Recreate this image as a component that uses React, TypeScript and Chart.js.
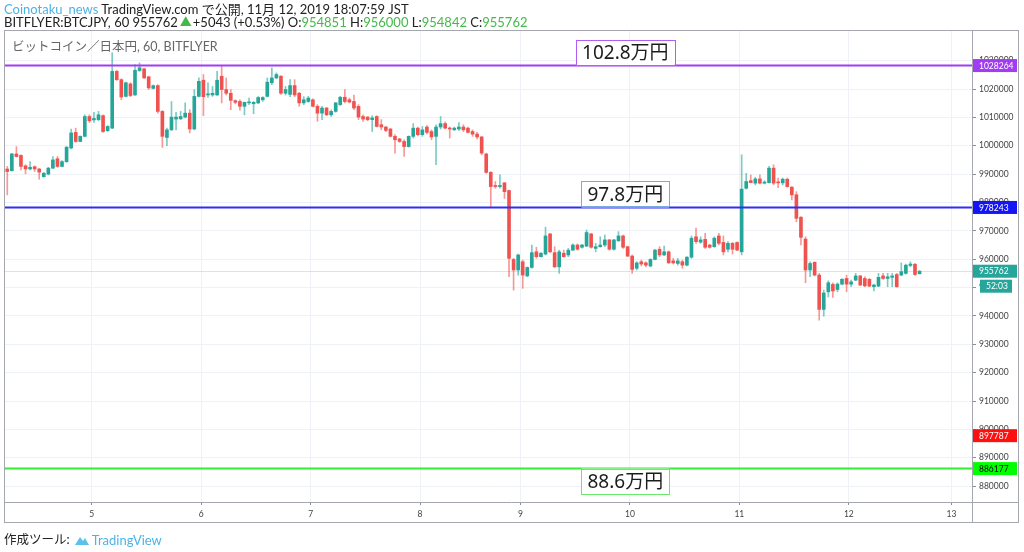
import React, { useEffect, useRef } from 'react';
import { Chart, registerables } from 'chart.js';

Chart.register(...registerables);

// ---------- data (BITFLYER:BTCJPY, 60 min candles) ----------
const opens = [
  991800, 991200, 997100, 996600, 992900, 991800, 992600, 991800, 989100, 990000,
  992100, 995400, 992700, 994400, 999200, 1004700, 1001500, 1003300, 1010300, 1009100,
  1009200, 1010600, 1005300, 1006200, 1026200, 1023300, 1017400, 1021800, 1017900, 1026500,
  1027100, 1024300, 1020200, 1021200, 1012100, 1002900, 1005600, 1009400, 1009500, 1010100,
  1011500, 1005900, 1017400, 1023100, 1017900, 1017900, 1017900, 1024500, 1019800, 1018500,
  1015900, 1015600, 1013900, 1015100, 1014800, 1015100, 1016200, 1017400, 1022200, 1023900,
  1024500, 1018500, 1018100, 1021200, 1018500, 1015100, 1015600, 1016200, 1013900, 1011500,
  1013300, 1010900, 1012100, 1014500, 1017100, 1016200, 1015600, 1013900, 1010300, 1010100,
  1009200, 1010300, 1007400, 1006600, 1005900, 1003300, 1002400, 1001500, 999700, 1003300,
  1006200, 1003900, 1006600, 1005000, 1003300, 1006600, 1007800, 1006200, 1005600, 1005900,
  1006600, 1006200, 1005000, 1004100, 1003100, 997100, 990600, 986000, 985600, 986900,
  984200, 959900, 956200, 959100, 954100, 957100, 962600, 960900, 961800, 968900,
  962300, 957300, 962100, 961500, 963200, 965000, 964200, 964600, 968900, 963800,
  964400, 965000, 966800, 963500, 966500, 968200, 964400, 961100, 956800, 959100,
  958700, 957600, 959900, 963500, 961500, 962600, 959400, 958500, 959100, 957900,
  960700, 967900, 966000, 967000, 965000, 964400, 968200, 965900, 963500, 965600,
  965900, 962600, 985000, 987700, 986800, 988300, 986800, 987000, 992100, 987200,
  986900, 988200, 985400, 982700, 974800, 967100, 956200, 958900, 954400, 942300,
  948500, 951100, 949300, 951200, 953200, 951200, 952600, 954100, 953200, 952900,
  950300, 950500, 954100, 953200, 953600, 954600, 954400, 955000, 957800, 958200,
  954851,
];
const highs = [
  992700, 997300, 999700, 996800, 993300, 994400, 992900, 992000, 990600, 992400,
  996200, 996200, 994800, 999700, 1005900, 1006200, 1003500, 1010900, 1010900, 1011800,
  1012100, 1010900, 1007100, 1032800, 1026600, 1023600, 1022400, 1022200, 1028600, 1029200,
  1027300, 1024500, 1021400, 1021500, 1012400, 1006200, 1015600, 1011800, 1012100, 1015100,
  1012700, 1019800, 1023900, 1025100, 1022200, 1020900, 1026200, 1028300, 1023900, 1019800,
  1016200, 1016200, 1015400, 1016800, 1015600, 1017300, 1017300, 1023900, 1027500, 1025700,
  1024700, 1020900, 1023300, 1023300, 1018800, 1017300, 1017400, 1016500, 1014500, 1013900,
  1013500, 1012700, 1015300, 1017400, 1019800, 1016800, 1017900, 1014500, 1010900, 1010300,
  1010600, 1010600, 1009200, 1006800, 1006100, 1003900, 1002600, 1002100, 1003500, 1007800,
  1006600, 1006800, 1007100, 1005600, 1007400, 1010300, 1008400, 1006600, 1006600, 1008200,
  1007400, 1006600, 1005600, 1004700, 1003300, 997400, 990900, 987400, 989700, 987100,
  984400, 960300, 961800, 959700, 957300, 965000, 964200, 962300, 971300, 969100,
  964400, 963200, 963200, 963800, 965400, 965400, 965200, 970300, 969100, 965600,
  967900, 968500, 967000, 967000, 969700, 968500, 964600, 961500, 959100, 959700,
  959100, 960200, 963500, 964400, 964600, 962900, 960300, 960300, 959700, 960900,
  968200, 971000, 967900, 969100, 965200, 967900, 969100, 968200, 966200, 965900,
  966100, 996800, 990300, 989700, 988900, 989700, 987700, 992700, 993300, 988600,
  988600, 988600, 985600, 983800, 975000, 967900, 959100, 959100, 955000, 949100,
  952400, 951700, 951700, 953200, 954400, 952600, 955000, 954300, 953800, 953200,
  951200, 955000, 955000, 955000, 955000, 955000, 958700, 958300, 959100, 958500,
  956000,
];
const lows = [
  982700, 991000, 996000, 991500, 990100, 991500, 990900, 988200, 988900, 989700,
  991900, 992400, 992500, 994100, 998900, 1001200, 1001400, 1003100, 1008200, 1008200,
  1008800, 1004700, 1005000, 1006000, 1023000, 1016200, 1017200, 1017300, 1017700, 1026200,
  1023700, 1019800, 1020000, 1011500, 999400, 1000000, 1005400, 1005600, 1009200, 1009800,
  1004500, 1005600, 1017200, 1010600, 1017000, 1017400, 1017700, 1015100, 1017900, 1012700,
  1014800, 1012500, 1010900, 1014500, 1011300, 1014800, 1015600, 1017200, 1021500, 1023600,
  1018100, 1017900, 1017300, 1017300, 1013900, 1014500, 1015300, 1013700, 1008600, 1009200,
  1010600, 1010300, 1011800, 1014200, 1015100, 1015100, 1012700, 1009200, 1008600, 1008800,
  1005000, 1006600, 1005600, 1005000, 1003100, 997400, 1001200, 996200, 999500, 1002700,
  1003500, 1003300, 1004200, 1002100, 993300, 1005900, 1005900, 1002700, 1005400, 1005400,
  1005000, 1004500, 1003300, 1002400, 996800, 990300, 978500, 985000, 985000, 981400,
  953800, 949100, 954400, 949700, 953800, 956800, 960300, 960700, 961500, 962300,
  957100, 955000, 960700, 960900, 963000, 963200, 963900, 964400, 963900, 962600,
  964200, 964400, 963200, 963200, 966200, 963800, 960900, 955000, 956200, 957600,
  957300, 957300, 959700, 960900, 961200, 958500, 958300, 957900, 956800, 957600,
  960300, 965600, 965600, 963800, 963900, 964200, 965000, 961500, 962600, 961800,
  963000, 961500, 984700, 986900, 986200, 986500, 986500, 986800, 986200, 985200,
  986200, 985400, 980900, 973200, 965000, 951700, 953800, 954100, 938500, 939900,
  946700, 946500, 948500, 950900, 948500, 950300, 952400, 950600, 950300, 950300,
  948800, 950300, 952900, 950300, 950300, 950100, 954100, 954700, 957300, 954300,
  954842,
];
const closes = [
  990900, 997100, 996200, 992700, 991800, 992400, 991800, 990700, 990300, 992100,
  995000, 992700, 994400, 999500, 1004500, 1001500, 1003300, 1010300, 1008800, 1009600,
  1010900, 1005000, 1006800, 1026200, 1023300, 1017200, 1022200, 1017700, 1026600, 1027500,
  1023900, 1020400, 1021200, 1012100, 1003300, 1005600, 1010100, 1010100, 1010300, 1011500,
  1005900, 1017400, 1022700, 1017300, 1018300, 1018500, 1023100, 1019800, 1018500, 1016000,
  1015300, 1013900, 1015300, 1015300, 1015300, 1017000, 1017000, 1022400, 1023900, 1025100,
  1018500, 1019800, 1021200, 1017900, 1015100, 1016200, 1016800, 1013900, 1011500, 1013300,
  1010900, 1012100, 1015100, 1017100, 1015600, 1015400, 1013300, 1010100, 1009400, 1009200,
  1009800, 1006800, 1006600, 1005400, 1003300, 1002100, 1001500, 999700, 1003300, 1006200,
  1003900, 1005600, 1004700, 1003100, 1006600, 1007800, 1006200, 1005900, 1006200, 1006600,
  1005600, 1004700, 1004100, 1003100, 997400, 990600, 985600, 985600, 986000, 983800,
  960300, 956200, 961500, 954400, 957100, 962300, 960900, 962100, 968200, 962600,
  957300, 962600, 960900, 963200, 965000, 963500, 965000, 969400, 964200, 964400,
  965000, 966800, 963500, 966800, 968200, 964200, 961100, 956400, 958700, 958300,
  957900, 959900, 963200, 961500, 962600, 958700, 958700, 959400, 957900, 960700,
  967400, 966200, 966800, 964200, 964200, 967400, 965600, 962600, 965600, 963500,
  963200, 984700, 987400, 987000, 988300, 986800, 987200, 992100, 986800, 986900,
  988200, 985600, 982700, 974400, 967700, 956200, 958500, 954400, 942300, 948100,
  951700, 948800, 951200, 952900, 951200, 952000, 954100, 950900, 950600, 950500,
  950900, 953600, 953200, 953800, 954100, 950300, 955600, 957900, 958300, 954600,
  955762,
];

// day boundaries (candle index) and their labels on the time axis
const dayTickIndex = [18.5, 42.5, 66.5, 90.5, 112.5, 136.5, 160.5, 184.5, 207];
const dayLabels = ['5', '6', '7', '8', '9', '10', '11', '12', '13'];

// price axis
const yTickValues = [
  880000, 890000, 900000, 910000, 920000, 930000, 940000, 950000,
  960000, 970000, 980000, 990000, 1000000, 1010000, 1020000, 1030000,
];

// horizontal level lines drawn by hand on the chart
const levelPrices = [1028264, 978243, 886177];
const levelTexts = ['102.8万円', '97.8万円', '88.6万円'];

// price markers on the axis
const lastPrice = 955762;
const countdownText = '52:03';
const markerPrice = 897787;

const headerAuthor = 'Coinotaku_news';
const headerPublished = 'TradingView.com で公開, 11月 12, 2019 18:07:59 JST';
const headerSymbol = 'BITFLYER:BTCJPY, 60';
const headerChange = '+5043 (+0.53%)';
const legendText = 'ビットコイン／日本円, 60, BITFLYER';

// ---------- styles ----------
const FONT = 'Lato, "Noto Sans CJK JP", sans-serif';
const UP = '#26a69a';
const DOWN = '#ef5350';
const UP_WICK = 'rgba(38,166,154,0.6)';
const DOWN_WICK = 'rgba(239,83,80,0.6)';
const LEVEL_LINE = ['#a23cf2', '#2e2ef6', '#33ee33'];
const LEVEL_TAG_BG = ['#a23cf2', '#1414f5', '#00ff00'];
const LEVEL_BOX = ['#b15df0', '#7ba9dd', '#6ce86c'];
const LEVEL_TAG_TEXT = ['#ffffff', '#ffffff', '#000000'];
const LEVEL_BOX_ABOVE = [true, true, false];
const LABEL_ANCHOR_INDEX = 135.5;
const GREEN_TXT = '#45b84a';

const overlayPlugin = {
  id: 'overlay',
  beforeDatasetsDraw(chart: any) {
    const { ctx, chartArea: a, scales } = chart;
    const py = Math.round(scales.y.getPixelForValue(lastPrice)) + 0.5;
    ctx.save();
    ctx.strokeStyle = 'rgba(38,166,154,0.22)';
    ctx.lineWidth = 1;
    ctx.beginPath();
    ctx.moveTo(a.left, py);
    ctx.lineTo(a.right, py);
    ctx.stroke();
    ctx.restore();
  },
  afterDatasetsDraw(chart: any) {
    const { ctx, chartArea: a, scales } = chart;
    ctx.save();
    levelPrices.forEach((p, i) => {
      const py = scales.y.getPixelForValue(p);
      ctx.strokeStyle = LEVEL_LINE[i];
      ctx.lineWidth = 2;
      ctx.beginPath();
      ctx.moveTo(a.left, py);
      ctx.lineTo(a.right, py);
      ctx.stroke();
    });
    ctx.font = '19px "Noto Sans", "Noto Sans CJK JP", sans-serif';
    ctx.textAlign = 'center';
    ctx.textBaseline = 'middle';
    const cx = scales.x.getPixelForValue(LABEL_ANCHOR_INDEX);
    levelPrices.forEach((p, i) => {
      const py = scales.y.getPixelForValue(p);
      const w = ctx.measureText(levelTexts[i]).width + 12;
      const h = 26;
      const top = LEVEL_BOX_ABOVE[i] ? py - h : py;
      ctx.fillStyle = '#ffffff';
      ctx.fillRect(cx - w / 2, top, w, h);
      ctx.strokeStyle = LEVEL_BOX[i];
      ctx.lineWidth = 1;
      ctx.strokeRect(Math.round(cx - w / 2) + 0.5, Math.round(top) + 0.5, Math.round(w), h - 1);
      ctx.fillStyle = '#1c1c1c';
      ctx.fillText(levelTexts[i], cx, top + h / 2 + 1);
    });
    ctx.restore();
  },
  afterDraw(chart: any) {
    const { ctx, chartArea: a, scales } = chart;
    ctx.save();
    // panel frame and axis lines
    ctx.strokeStyle = '#a4a7ae';
    ctx.lineWidth = 1;
    ctx.strokeRect(4.5, 30.5, 1014, 492);
    ctx.beginPath();
    ctx.moveTo(Math.round(a.right) + 0.5, 30.5);
    ctx.lineTo(Math.round(a.right) + 0.5, 522.5);
    ctx.moveTo(4.5, Math.round(a.bottom) + 0.5);
    ctx.lineTo(1018.5, Math.round(a.bottom) + 0.5);
    ctx.stroke();

    // tags on the price axis
    const tag = (price: number, bg: string, fg: string, text: string, dx = 0, dy = 0, w = 44) => {
      const py = scales.y.getPixelForValue(price) + dy;
      ctx.fillStyle = bg;
      ctx.fillRect(a.right + 1 + dx, py - 6.5, w, 13);
      ctx.fillStyle = fg;
      ctx.font = '8.5px Lato, sans-serif';
      ctx.textAlign = 'left';
      ctx.textBaseline = 'middle';
      ctx.fillText(text, a.right + 7 + dx, py + 0.5);
    };
    levelPrices.forEach((p, i) => tag(p, LEVEL_TAG_BG[i], LEVEL_TAG_TEXT[i], String(p)));
    tag(markerPrice, '#ff1010', '#ffffff', String(markerPrice));
    tag(lastPrice, UP, '#ffffff', String(lastPrice));
    tag(lastPrice, UP, '#ffffff', countdownText, 7, 15, 32);
    ctx.restore();
  },
};

export default function App() {
  const canvasRef = useRef<HTMLCanvasElement | null>(null);

  useEffect(() => {
    document.body.style.margin = '0';
    const canvas = canvasRef.current;
    if (!canvas) return;
    Chart.defaults.font.family = FONT;

    const isUp = closes.map((c, i) => c >= opens[i]);
    const wickData = highs.map((h, i) => ({ x: i, y: [lows[i], h] }));
    const bodyData = opens.map((o, i) => ({ x: i, y: [o, closes[i]] }));

    const chart = new Chart(canvas, {
      type: 'bar',
      data: {
        datasets: [
          {
            data: wickData as any,
            backgroundColor: isUp.map((u) => (u ? UP_WICK : DOWN_WICK)),
            barThickness: 1,
            grouped: false,
            borderWidth: 0,
          } as any,
          {
            data: bodyData as any,
            backgroundColor: isUp.map((u) => (u ? UP : DOWN)),
            barThickness: 3,
            minBarLength: 1,
            grouped: false,
            borderWidth: 0,
          } as any,
        ],
      },
      options: {
        animation: false,
        responsive: true,
        maintainAspectRatio: false,
        layout: { padding: { left: 5, right: 5, top: 30, bottom: 29 } },
        plugins: { legend: { display: false }, tooltip: { enabled: false } },
        scales: {
          x: {
            type: 'linear',
            min: -0.5,
            max: 211.5,
            offset: false,
            afterBuildTicks: (s: any) => {
              s.ticks = dayTickIndex.map((v) => ({ value: v }));
            },
            afterFit: (s: any) => {
              s.height = 21;
            },
            grid: { color: '#eef1f6', offset: false, tickLength: 3, tickColor: '#8a8d94' },
            border: { display: false },
            ticks: {
              autoSkip: false,
              maxRotation: 0,
              padding: 4,
              color: '#444',
              font: { size: 8.5, family: 'Lato, sans-serif' },
              callback: (v: any) => {
                const k = dayTickIndex.indexOf(Number(v));
                return k >= 0 ? dayLabels[k] : '';
              },
            },
          },
          y: {
            type: 'linear',
            position: 'right',
            min: 874400,
            max: 1040800,
            beginAtZero: false,
            afterBuildTicks: (s: any) => {
              s.ticks = yTickValues.map((v) => ({ value: v }));
            },
            afterFit: (s: any) => {
              s.width = 47;
            },
            grid: { color: '#eef1f6', tickLength: 4, tickColor: '#8a8d94' },
            border: { display: false },
            ticks: {
              padding: 3,
              color: '#444',
              font: { size: 8.5, family: 'Lato, sans-serif' },
              callback: (v: any) => String(v),
            },
          },
        },
      } as any,
      plugins: [overlayPlugin],
    });
    return () => chart.destroy();
  }, []);

  const n = opens.length - 1;
  return (
    <div
      style={{
        position: 'fixed',
        left: 0,
        top: 0,
        width: 1024,
        height: 552,
        background: '#ffffff',
        overflow: 'hidden',
        fontFamily: FONT,
      }}
    >
      <div style={{ position: 'absolute', left: 0, top: 0, width: 1024, height: 552 }}>
        <canvas ref={canvasRef} />
      </div>
      <div
        style={{
          position: 'absolute', left: 4, top: 3, fontSize: 13, lineHeight: '13px',
          color: '#222', whiteSpace: 'nowrap',
        }}
      >
        <span style={{ color: '#4cb3e6' }}>{headerAuthor}</span> {headerPublished}
      </div>
      <div
        style={{
          position: 'absolute', left: 4, top: 16, fontSize: 13, lineHeight: '13px',
          color: '#222', whiteSpace: 'nowrap',
        }}
      >
        {headerSymbol} {closes[n]}
        <span style={{ color: GREEN_TXT, fontSize: 12, margin: '0 1px 0 2px' }}>▲</span>
        {headerChange} O:<span style={{ color: GREEN_TXT }}>{opens[n]}</span> H:
        <span style={{ color: GREEN_TXT }}>{highs[n]}</span> L:
        <span style={{ color: GREEN_TXT }}>{lows[n]}</span> C:
        <span style={{ color: GREEN_TXT }}>{closes[n]}</span>
      </div>
      <div
        style={{
          position: 'absolute', left: 12, top: 40, fontSize: 12.5, lineHeight: '14px',
          color: '#666', whiteSpace: 'nowrap',
        }}
      >
        {legendText}
      </div>
      <div
        style={{
          position: 'absolute', left: 4, top: 532, fontSize: 12.5, lineHeight: '16px',
          color: '#222', whiteSpace: 'nowrap', display: 'flex', alignItems: 'center',
        }}
      >
        <span>作成ツール:</span>
        <svg width="16" height="11" viewBox="0 0 16 11" style={{ margin: '0 2px 0 4px' }}>
          <path d="M1 10 L6 2 L9 6 L11 3 L15 10 Z" fill="#5bc2ea" />
        </svg>
        <span style={{ color: '#4cb3e6', fontSize: 13 }}>TradingView</span>
      </div>
    </div>
  );
}
